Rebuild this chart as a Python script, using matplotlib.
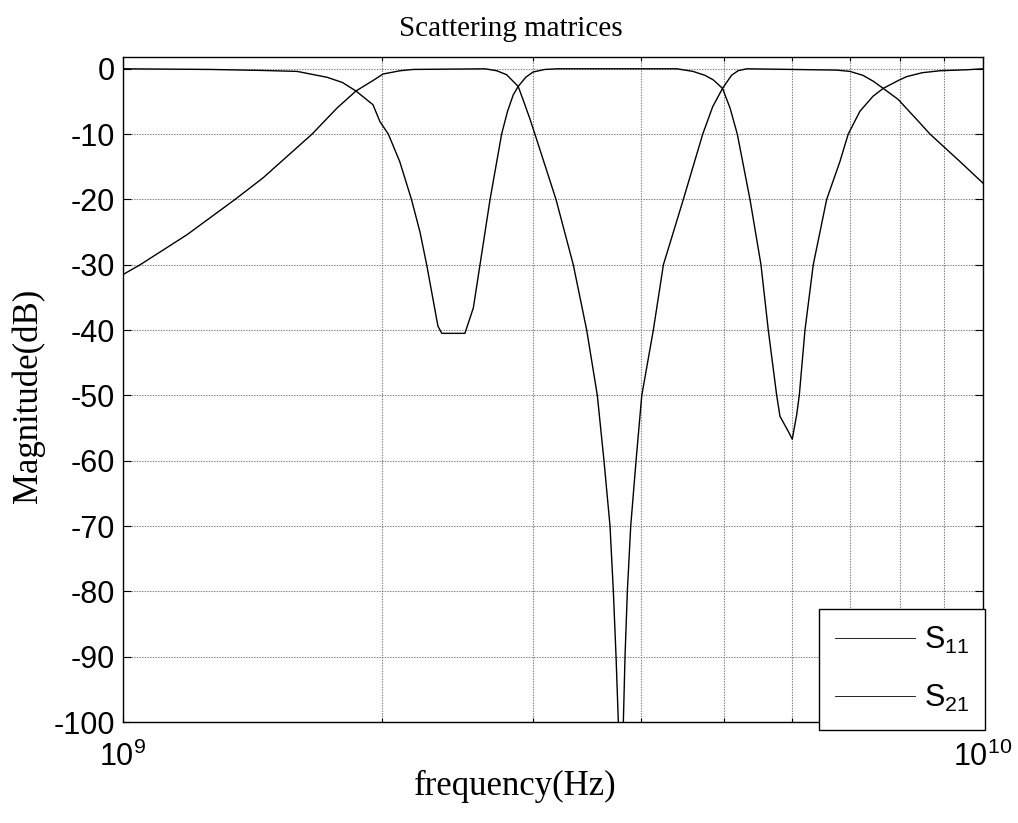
import numpy as np
import matplotlib
matplotlib.use("Agg")
import matplotlib.pyplot as plt
from matplotlib.ticker import FixedLocator, FixedFormatter, NullFormatter
from matplotlib.lines import Line2D

# Reflection coefficient S11 (dB) versus frequency (GHz)
s11_freq_ghz = [1.000, 1.262, 1.450, 1.594, 1.727, 1.800, 1.866, 1.953, 1.990, 2.035,
                2.098, 2.165, 2.215, 2.255, 2.324, 2.348, 2.498, 2.555, 2.601, 2.672,
                2.756, 2.800, 2.843, 2.881, 2.940, 2.997, 3.095, 3.200, 4.405, 4.601,
                4.750, 4.858, 4.979, 5.080, 5.180, 5.359, 5.519, 5.628, 5.756, 5.807,
                5.937, 6.001, 6.072, 6.115, 6.209, 6.348, 6.580, 6.818, 6.971, 7.193,
                7.450, 7.656, 7.970, 8.151, 8.500, 8.913, 9.573, 10.000]
s11_db = [0.0, -0.1, -0.25, -0.4, -1.3, -2.1, -3.4, -5.5, -8.1, -10.0,
          -14.2, -20.0, -25.0, -30.0, -39.4, -40.5, -40.5, -36.6, -30.0, -20.0,
          -10.0, -6.5, -4.0, -2.7, -1.3, -0.5, -0.1, 0.0, 0.0, -0.4,
          -1.0, -1.7, -3.0, -6.0, -10.0, -20.0, -30.0, -40.0, -50.0, -53.2,
          -55.5, -56.7, -53.0, -50.0, -40.0, -30.0, -20.0, -14.2, -10.0, -6.5,
          -4.2, -3.0, -1.8, -1.2, -0.6, -0.3, -0.15, 0.0]

# Transmission coefficient S21 (dB) versus frequency (GHz)
s21_freq_ghz = [1.000, 1.047, 1.187, 1.350, 1.455, 1.659, 1.774, 1.866, 1.953, 2.006,
                2.100, 2.174, 2.636, 2.720, 2.793, 2.881, 2.920, 2.970, 3.013, 3.188,
                3.339, 3.461, 3.561, 3.625, 3.684, 3.717, 3.744, 3.767, 3.790, 3.818,
                3.835, 3.859, 3.894, 3.950, 4.011, 4.137, 4.250, 4.483, 4.722, 4.850,
                4.979, 5.100, 5.190, 5.312, 6.758, 7.003, 7.250, 7.454, 7.656, 7.970,
                8.447, 8.678, 9.402, 10.000]
s21_db = [-31.5, -30.0, -25.4, -20.0, -16.7, -10.0, -6.0, -3.4, -1.8, -0.8,
          -0.3, -0.1, 0.0, -0.3, -0.9, -2.7, -4.8, -7.5, -10.0, -20.0,
          -30.0, -40.0, -50.0, -60.0, -70.0, -80.0, -90.0, -100.0, -118.0, -100.0,
          -90.0, -80.0, -70.0, -60.0, -50.0, -40.0, -30.0, -20.0, -10.0, -5.8,
          -3.0, -1.0, -0.3, 0.0, -0.2, -0.4, -1.0, -1.9, -3.0, -4.7,
          -8.3, -10.0, -14.2, -17.5]

series_labels = [r"S$_{\mathregular{11}}$", r"S$_{\mathregular{21}}$"]
x_major_ticks = [1e9, 1e10]
x_major_labels = [r"$\mathregular{10^{9}}$", r"$\mathregular{10^{10}}$"]
x_minor_ticks = [2e9, 3e9, 4e9, 5e9, 6e9, 7e9, 8e9, 9e9]
y_ticks = list(range(-100, 1, 10))

plt.rcParams["font.family"] = ["Liberation Sans", "DejaVu Sans"]
plt.rcParams["mathtext.fontset"] = "custom"
plt.rcParams["mathtext.rm"] = "Liberation Sans"
plt.rcParams["axes.unicode_minus"] = False

fig = plt.figure(figsize=(10.18, 8.23), dpi=100)
ax = fig.add_axes([0.1208, 0.1227, 0.8448, 0.8080])

f11 = np.array(s11_freq_ghz) * 1e9
f21 = np.array(s21_freq_ghz) * 1e9
ax.plot(f11, s11_db, color="black", lw=1.0)
ax.plot(f21, s21_db, color="black", lw=1.0)

ax.set_xscale("log")
ax.set_xlim(1e9, 1e10)
ax.set_ylim(-100, 1.8)
ax.xaxis.set_major_locator(FixedLocator(x_major_ticks))
ax.xaxis.set_major_formatter(FixedFormatter(x_major_labels))
ax.xaxis.set_minor_locator(FixedLocator(x_minor_ticks))
ax.xaxis.set_minor_formatter(NullFormatter())
ax.set_yticks(y_ticks)
ax.set_yticklabels([str(v) for v in y_ticks])

grid_kw = dict(color="#7a7a7a", linestyle=(0, (1.2, 1.2)), linewidth=0.8)
ax.grid(True, which="major", axis="both", **grid_kw)
ax.grid(True, which="minor", axis="x", **grid_kw)

ax.tick_params(which="major", direction="in", length=6, width=0.8,
               top=True, right=True, labelsize=22)
ax.tick_params(axis="y", which="major", pad=6)
ax.tick_params(axis="x", which="major", pad=14)
ax.tick_params(which="minor", direction="in", length=3, width=0.8,
               top=True, right=True)
for sp in ax.spines.values():
    sp.set_linewidth(1.0)
    sp.set_color("black")

fig.text(511 / 1018, 1 - 29 / 823, "Scattering matrices", ha="center", va="center",
         family="Liberation Serif", size=21)
fig.text(515 / 1018, 1 - 786 / 823, "frequency(Hz)", ha="center", va="center",
         family="Liberation Serif", size=25)
fig.text(28 / 1018, 1 - 396 / 823, "Magnitude(dB)", ha="center", va="center",
         rotation=90, family="Liberation Serif", size=25)

handles = [Line2D([], [], color="black", lw=0.6),
           Line2D([], [], color="black", lw=0.6)]
leg = ax.legend(handles, series_labels, loc="lower right",
                bbox_to_anchor=(985 / 1018, 1 - 730 / 823),
                bbox_transform=fig.transFigure, fontsize=22,
                frameon=True, fancybox=False, framealpha=1.0,
                edgecolor="black", handlelength=2.6, handletextpad=0.3,
                labelspacing=0.88, borderpad=0.52, borderaxespad=0.0)
leg.get_frame().set_linewidth(1.0)

fig.savefig("out.png", dpi=100)
